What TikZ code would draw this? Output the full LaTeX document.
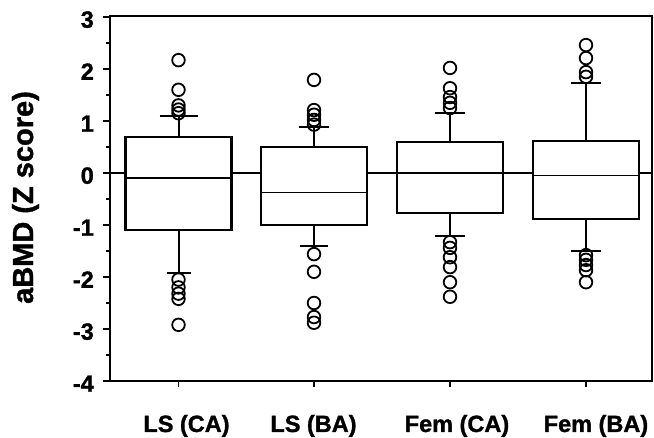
\documentclass[tikz,border=0pt]{standalone}
\usepackage{fontspec}
\setmainfont{Liberation Sans}
\newfontfamily\hvfont[FakeBold=1.3]{Liberation Sans Bold}
\begin{document}
\begin{tikzpicture}[x=1pt,y=1pt,
  axis/.style={line width=2.4pt},
  boxst/.style={line width=2.2pt, fill=white},
  medst/.style={line width=1.5pt},
  whisk/.style={line width=2pt},
  outl/.style={line width=1.8pt},
  ticklab/.style={font=\fontsize{23.5}{23.5}\hvfont, anchor=east, inner sep=0pt},
  catlab/.style={font=\fontsize{23.5}{24}\hvfont, anchor=base, inner sep=0pt},
  ylabst/.style={font=\fontsize{29}{29}\hvfont, anchor=base, inner sep=0pt, rotate=90},
]
\useasboundingbox (0,0) rectangle (654,438);
\begin{scope}[yshift=265pt, y=52pt]
  % zero reference line
  \draw[axis] (110,0) -- (652,0);
  % frame
  \draw[axis] (104,-4) -- (652,-4) -- (652,3.02) -- (110,3.02) -- (110,-4);
  % y ticks
  \foreach \v [count=\i] in {-4,...,3} {
    \draw[axis] (103,\v) -- (110,\v);
    \node[ticklab] (tick\i) at (94,\v-0.05) {\v};
  }
  \foreach \v in {-3.5,-2.5,...,2.5} \draw[line width=1.8pt] (106,\v) -- (110,\v);
  % x ticks
  \foreach \c in {178.5,314,450,586} \draw[line width=1.8pt] (\c,-4) -- (\c,-4.12);
  % boxes: center, q1, med, q3, wlo, whi, caplo, caphi
  \foreach \c/\q/\m/\t/\wl/\wh/\cl/\ch/\mw in {
     178.5/-1.1/-0.1/0.69/-1.92/1.1/12/19/2.0,
     314/-1.0/-0.38/0.5/-1.4/0.88/14/15/1.3,
     450/-0.77/0.0/0.6/-1.21/1.15/15/15/2.2,
     586/-0.88/-0.05/0.62/-1.5/1.73/15/15/1.3} {
    \draw[whisk] (\c,\t) -- (\c,\wh);
    \draw[whisk] (\c,\q) -- (\c,\wl);
    \draw[whisk] (\c-\ch,\wh) -- (\c+\ch,\wh);
    \draw[whisk] (\c-\cl,\wl) -- (\c+\cl,\wl);
    \draw[boxst] (\c-53,\q) rectangle (\c+53,\t);
    \draw[medst, line width=\mw pt] (\c-53,\m) -- (\c+53,\m);
  }
  % outliers
  \foreach \v in {2.17,1.6,1.3,1.22,1.15,-2.05,-2.2,-2.32,-2.42,-2.92}
    \draw[outl] (178.5,\v) circle[radius=6.3pt];
  \foreach \v in {1.79,1.21,1.12,1.02,0.93,-1.56,-1.9,-2.5,-2.77,-2.88}
    \draw[outl] (314,\v) circle[radius=6.3pt];
  \foreach \v in {2.02,1.63,1.46,1.35,1.25,-1.33,-1.44,-1.62,-1.81,-2.1,-2.38}
    \draw[outl] (450,\v) circle[radius=6.3pt];
  \foreach \v in {2.46,2.21,1.94,1.85,-1.58,-1.67,-1.77,-1.87,-2.1}
    \draw[outl] (586,\v) circle[radius=6.3pt];
\end{scope}
% labels
\node[ylabst] (ylab) at (33,240.5) {aBMD (Z score)};
\node[catlab] (c1) at (186.5,6) {LS (CA)};
\node[catlab] (c2) at (313.5,6) {LS (BA)};
\node[catlab] (c3) at (457,6) {Fem (CA)};
\node[catlab] (c4) at (596,6) {Fem (BA)};
\end{tikzpicture}
\end{document}
